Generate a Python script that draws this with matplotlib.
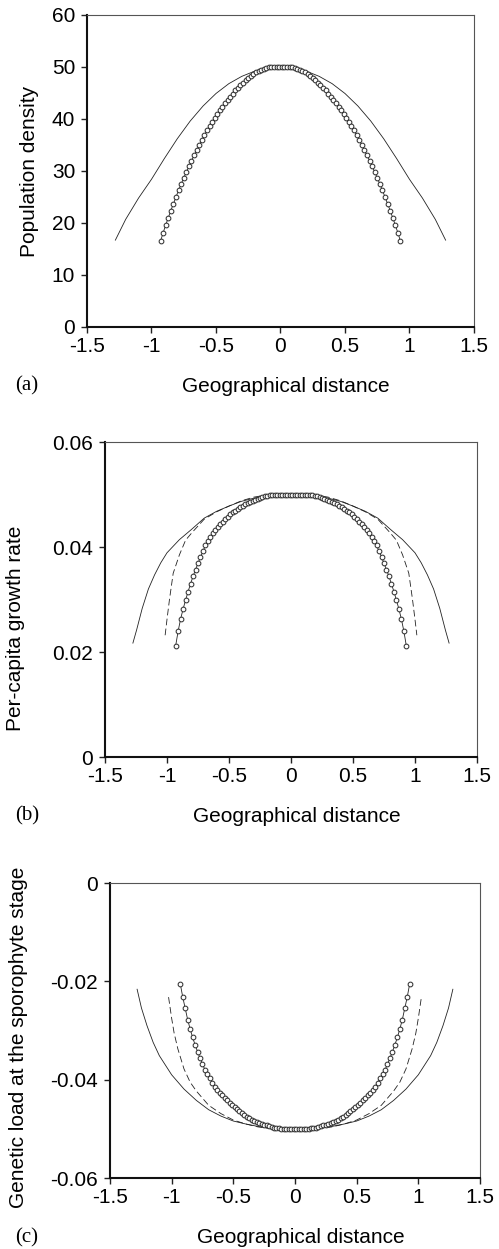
import numpy as np
import matplotlib
matplotlib.use('Agg')
import matplotlib.pyplot as plt
from matplotlib.ticker import FormatStrFormatter

plt.rcParams['font.family'] = ['Liberation Sans', 'DejaVu Sans']
plt.rcParams['axes.unicode_minus'] = False

# distances of the simulated (circle) series
circ_x = [-0.93, -0.91, -0.89, -0.87, -0.85, -0.83, -0.81, -0.79, -0.77, -0.75,
          -0.73, -0.71, -0.69, -0.67, -0.65, -0.63, -0.61, -0.59, -0.57, -0.55,
          -0.53, -0.51, -0.49, -0.47, -0.45, -0.43, -0.41, -0.39, -0.37, -0.35,
          -0.33, -0.31, -0.29, -0.27, -0.25, -0.23, -0.21, -0.19, -0.17, -0.15,
          -0.13, -0.11, -0.09, -0.07, -0.05, -0.03, -0.01,
          0.01, 0.03, 0.05, 0.07, 0.09, 0.11, 0.13, 0.15, 0.17, 0.19,
          0.21, 0.23, 0.25, 0.27, 0.29, 0.31, 0.33, 0.35, 0.37, 0.39,
          0.41, 0.43, 0.45, 0.47, 0.49, 0.51, 0.53, 0.55, 0.57, 0.59,
          0.61, 0.63, 0.65, 0.67, 0.69, 0.71, 0.73, 0.75, 0.77, 0.79,
          0.81, 0.83, 0.85, 0.87, 0.89, 0.91, 0.93]

# (a) population density
dens_circ = [16.5, 18.1, 19.6, 21.0, 22.4, 23.7, 25.0, 26.3, 27.5, 28.7,
             29.8, 30.9, 32.0, 33.0, 34.0, 35.0, 36.0, 36.9, 37.8, 38.6,
             39.4, 40.2, 41.0, 41.7, 42.4, 43.1, 43.7, 44.3, 44.9, 45.5,
             46.0, 46.5, 47.0, 47.5, 47.9, 48.3, 48.7, 49.0, 49.3, 49.5,
             49.7, 49.9, 50.0, 50.0, 50.0, 50.0, 50.0,
             50.0, 50.0, 50.0, 50.0, 50.0, 49.9, 49.7, 49.5, 49.3, 49.0,
             48.7, 48.3, 47.9, 47.5, 47.0, 46.5, 46.0, 45.5, 44.9, 44.3,
             43.7, 43.1, 42.4, 41.7, 41.0, 40.2, 39.4, 38.6, 37.8, 36.9,
             36.0, 35.0, 34.0, 33.0, 32.0, 30.9, 29.8, 28.7, 27.5, 26.3,
             25.0, 23.7, 22.4, 21.0, 19.6, 18.1, 16.5]
dens_line_x = [-1.28, -1.2, -1.1, -1.0, -0.9, -0.8, -0.7, -0.6, -0.5, -0.4, -0.3, -0.2, -0.1, 0.0,
               0.1, 0.2, 0.3, 0.4, 0.5, 0.6, 0.7, 0.8, 0.9, 1.0, 1.1, 1.2, 1.28]
dens_line = [16.7, 20.7, 24.8, 28.4, 32.4, 36.2, 39.6, 42.5, 44.9, 46.8, 48.2, 49.2, 49.8, 50.0,
             49.8, 49.2, 48.2, 46.8, 44.9, 42.5, 39.6, 36.2, 32.4, 28.4, 24.8, 20.7, 16.7]

# (b) per-capita growth rate
growth_circ = [0.0212, 0.0240, 0.0263, 0.0282, 0.0299, 0.0315, 0.0330, 0.0344, 0.0357, 0.0369,
               0.0381, 0.0392, 0.0403, 0.0411, 0.0419, 0.0426, 0.0432, 0.0438, 0.0443, 0.0448,
               0.0453, 0.0458, 0.0462, 0.0466, 0.0469, 0.0473, 0.0476, 0.0479, 0.0481, 0.0484,
               0.0486, 0.0488, 0.0490, 0.0492, 0.0494, 0.0496, 0.0497, 0.0498, 0.0499, 0.0499,
               0.0500, 0.0500, 0.0500, 0.0500, 0.0500, 0.0500, 0.0500,
               0.0500, 0.0500, 0.0500, 0.0500, 0.0500, 0.0500, 0.0500, 0.0499, 0.0499, 0.0498,
               0.0497, 0.0496, 0.0494, 0.0492, 0.0490, 0.0488, 0.0486, 0.0484, 0.0481, 0.0479,
               0.0476, 0.0473, 0.0469, 0.0466, 0.0462, 0.0458, 0.0453, 0.0448, 0.0443, 0.0438,
               0.0432, 0.0426, 0.0419, 0.0411, 0.0403, 0.0392, 0.0381, 0.0369, 0.0357, 0.0344,
               0.0330, 0.0315, 0.0299, 0.0282, 0.0263, 0.0240, 0.0212]
growth_dash_x = [-1.015, -1.0, -0.98, -0.95, -0.9, -0.85, -0.8, -0.7, -0.6, -0.5, -0.4, -0.3, -0.2, -0.1, 0.0,
                 0.1, 0.2, 0.3, 0.4, 0.5, 0.6, 0.7, 0.8, 0.85, 0.9, 0.95, 0.98, 1.0, 1.015]
growth_dash = [0.0232, 0.0262, 0.0300, 0.0350, 0.0385, 0.0413, 0.0427, 0.0453, 0.0467, 0.0478,
               0.0488, 0.0495, 0.0499, 0.0500, 0.0500,
               0.0500, 0.0499, 0.0495, 0.0488, 0.0478, 0.0467, 0.0453, 0.0427, 0.0413, 0.0385,
               0.0350, 0.0300, 0.0262, 0.0232]
growth_line_x = [-1.275, -1.245, -1.2, -1.15, -1.1, -1.05, -1.0, -0.9, -0.8, -0.7, -0.6, -0.5, -0.4, -0.3, -0.2, -0.1, 0.0,
                 0.1, 0.2, 0.3, 0.4, 0.5, 0.6, 0.7, 0.8, 0.9, 1.0, 1.05, 1.1, 1.15, 1.2, 1.245, 1.275]
growth_line = [0.0217, 0.0242, 0.0283, 0.0320, 0.0347, 0.0370, 0.0389, 0.0414, 0.0434, 0.0455, 0.0468,
               0.0478, 0.0487, 0.0493, 0.0498, 0.0500, 0.0500,
               0.0500, 0.0498, 0.0493, 0.0487, 0.0478, 0.0468, 0.0455, 0.0434, 0.0414, 0.0389,
               0.0370, 0.0347, 0.0320, 0.0283, 0.0242, 0.0217]

# (c) genetic load at the sporophyte stage
load_circ = [-0.0205, -0.0232, -0.0255, -0.0278, -0.0297, -0.0314, -0.0329, -0.0343, -0.0356, -0.0368,
             -0.0380, -0.0389, -0.0397, -0.0406, -0.0414, -0.0420, -0.0426, -0.0432, -0.0437, -0.0442,
             -0.0447, -0.0452, -0.0456, -0.0460, -0.0464, -0.0468, -0.0472, -0.0475, -0.0478, -0.0481,
             -0.0484, -0.0486, -0.0488, -0.0490, -0.0492, -0.0493, -0.0495, -0.0496, -0.0498, -0.0499,
             -0.0499, -0.0500, -0.0500, -0.0500, -0.0500, -0.0500, -0.0500,
             -0.0500, -0.0500, -0.0500, -0.0500, -0.0500, -0.0500, -0.0499, -0.0499, -0.0498, -0.0496,
             -0.0495, -0.0493, -0.0492, -0.0490, -0.0488, -0.0486, -0.0484, -0.0481, -0.0478, -0.0475,
             -0.0472, -0.0468, -0.0464, -0.0460, -0.0456, -0.0452, -0.0447, -0.0442, -0.0437, -0.0432,
             -0.0426, -0.0420, -0.0414, -0.0406, -0.0397, -0.0389, -0.0380, -0.0368, -0.0356, -0.0343,
             -0.0329, -0.0314, -0.0297, -0.0278, -0.0255, -0.0232, -0.0205]
load_dash_x = [-1.025, -1.0, -0.98, -0.95, -0.9, -0.85, -0.8, -0.7, -0.6, -0.5, -0.4, -0.3, -0.2, -0.1, 0.0,
               0.1, 0.2, 0.3, 0.4, 0.5, 0.6, 0.7, 0.8, 0.85, 0.9, 0.95, 0.98, 1.0, 1.025]
load_dash = [-0.0232, -0.0275, -0.0305, -0.0337, -0.0378, -0.0405, -0.0423, -0.0452, -0.0469, -0.0482,
             -0.0490, -0.0496, -0.0499, -0.0500, -0.0500,
             -0.0500, -0.0499, -0.0496, -0.0490, -0.0482, -0.0469, -0.0452, -0.0423, -0.0405, -0.0378,
             -0.0337, -0.0305, -0.0275, -0.0232]
load_line_x = [-1.28, -1.245, -1.2, -1.15, -1.1, -1.0, -0.9, -0.8, -0.7, -0.6, -0.5, -0.4, -0.3, -0.2, -0.1, 0.0,
               0.1, 0.2, 0.3, 0.4, 0.5, 0.6, 0.7, 0.8, 0.9, 1.0, 1.1, 1.15, 1.2, 1.245, 1.28]
load_line = [-0.0216, -0.0254, -0.0290, -0.0324, -0.0351, -0.0390, -0.0419, -0.0442, -0.0461, -0.0474,
             -0.0484, -0.0490, -0.0495, -0.0499, -0.0500, -0.0500,
             -0.0500, -0.0499, -0.0495, -0.0490, -0.0484, -0.0474, -0.0461, -0.0442, -0.0419, -0.0390,
             -0.0351, -0.0324, -0.0290, -0.0254, -0.0216]

x_ticks = [-1.5, -1, -0.5, 0, 0.5, 1, 1.5]
xlabel = 'Geographical distance'

fig = plt.figure(figsize=(4.99, 12.49), dpi=100)

panels = [
    # axes rect, ylabel, yticks, ylabel coords, tag
    ([0.1743, 0.7382, 0.7756, 0.2498], 'Population density', [0, 10, 20, 30, 40, 50, 60], (-0.125, 0.5), '(a)'),
    ([0.2104, 0.3939, 0.7455, 0.2522], 'Per-capita growth rate', [0, 0.02, 0.04, 0.06], (-0.215, 0.41), '(b)'),
    ([0.2204, 0.0568, 0.7415, 0.2362], 'Genetic load at the sporophyte stage', [-0.06, -0.04, -0.02, 0], (-0.222, 0.478), '(c)'),
]
series = [
    (dens_circ, None, None, dens_line_x, dens_line),
    (growth_circ, growth_dash_x, growth_dash, growth_line_x, growth_line),
    (load_circ, load_dash_x, load_dash, load_line_x, load_line),
]

for (rect, ylab, yt, ycoords, tag), (circ, dx, dy, lx, ly) in zip(panels, series):
    ax = fig.add_axes(rect)
    ax.plot(lx, ly, color='#222222', lw=0.6)
    if dx is not None:
        ax.plot(dx, dy, color='#222222', lw=0.6, dashes=(8, 4))
    ax.plot(circ_x, circ, color='#222222', lw=0.6, marker='o', ms=3.4,
            mfc='white', mec='#333333', mew=0.75)
    ax.set_xlim(-1.5, 1.5)
    ax.set_ylim(yt[0], yt[-1])
    ax.set_xticks(x_ticks)
    ax.set_yticks(yt)
    ax.xaxis.set_major_formatter(FormatStrFormatter('%g'))
    ax.yaxis.set_major_formatter(FormatStrFormatter('%g'))
    ax.tick_params(direction='out', length=4.5, width=1.0, labelsize=15, color='#222222')
    ax.tick_params(axis='x', pad=3)
    ax.tick_params(axis='y', pad=4)
    for s in ['left', 'bottom']:
        ax.spines[s].set_linewidth(1.5)
        ax.spines[s].set_color('#111111')
    for s in ['top', 'right']:
        ax.spines[s].set_linewidth(0.8)
        ax.spines[s].set_color('#555555')
    ax.set_ylabel(ylab, fontsize=15)
    ax.yaxis.set_label_coords(*ycoords)
    ax.set_xlabel(xlabel, fontsize=15)
    lab_y = -0.19 * 0.25 / rect[3]
    ax.xaxis.set_label_coords(0.515, lab_y)
    ax.xaxis.label.set_verticalalignment('center')
    # panel tag sits at the same height as the x label, near the left edge
    fig.text(27 / 499, rect[1] + lab_y * rect[3], tag, fontsize=15,
             family='Liberation Serif', ha='center', va='center')

fig.savefig('out.png', dpi=100)
